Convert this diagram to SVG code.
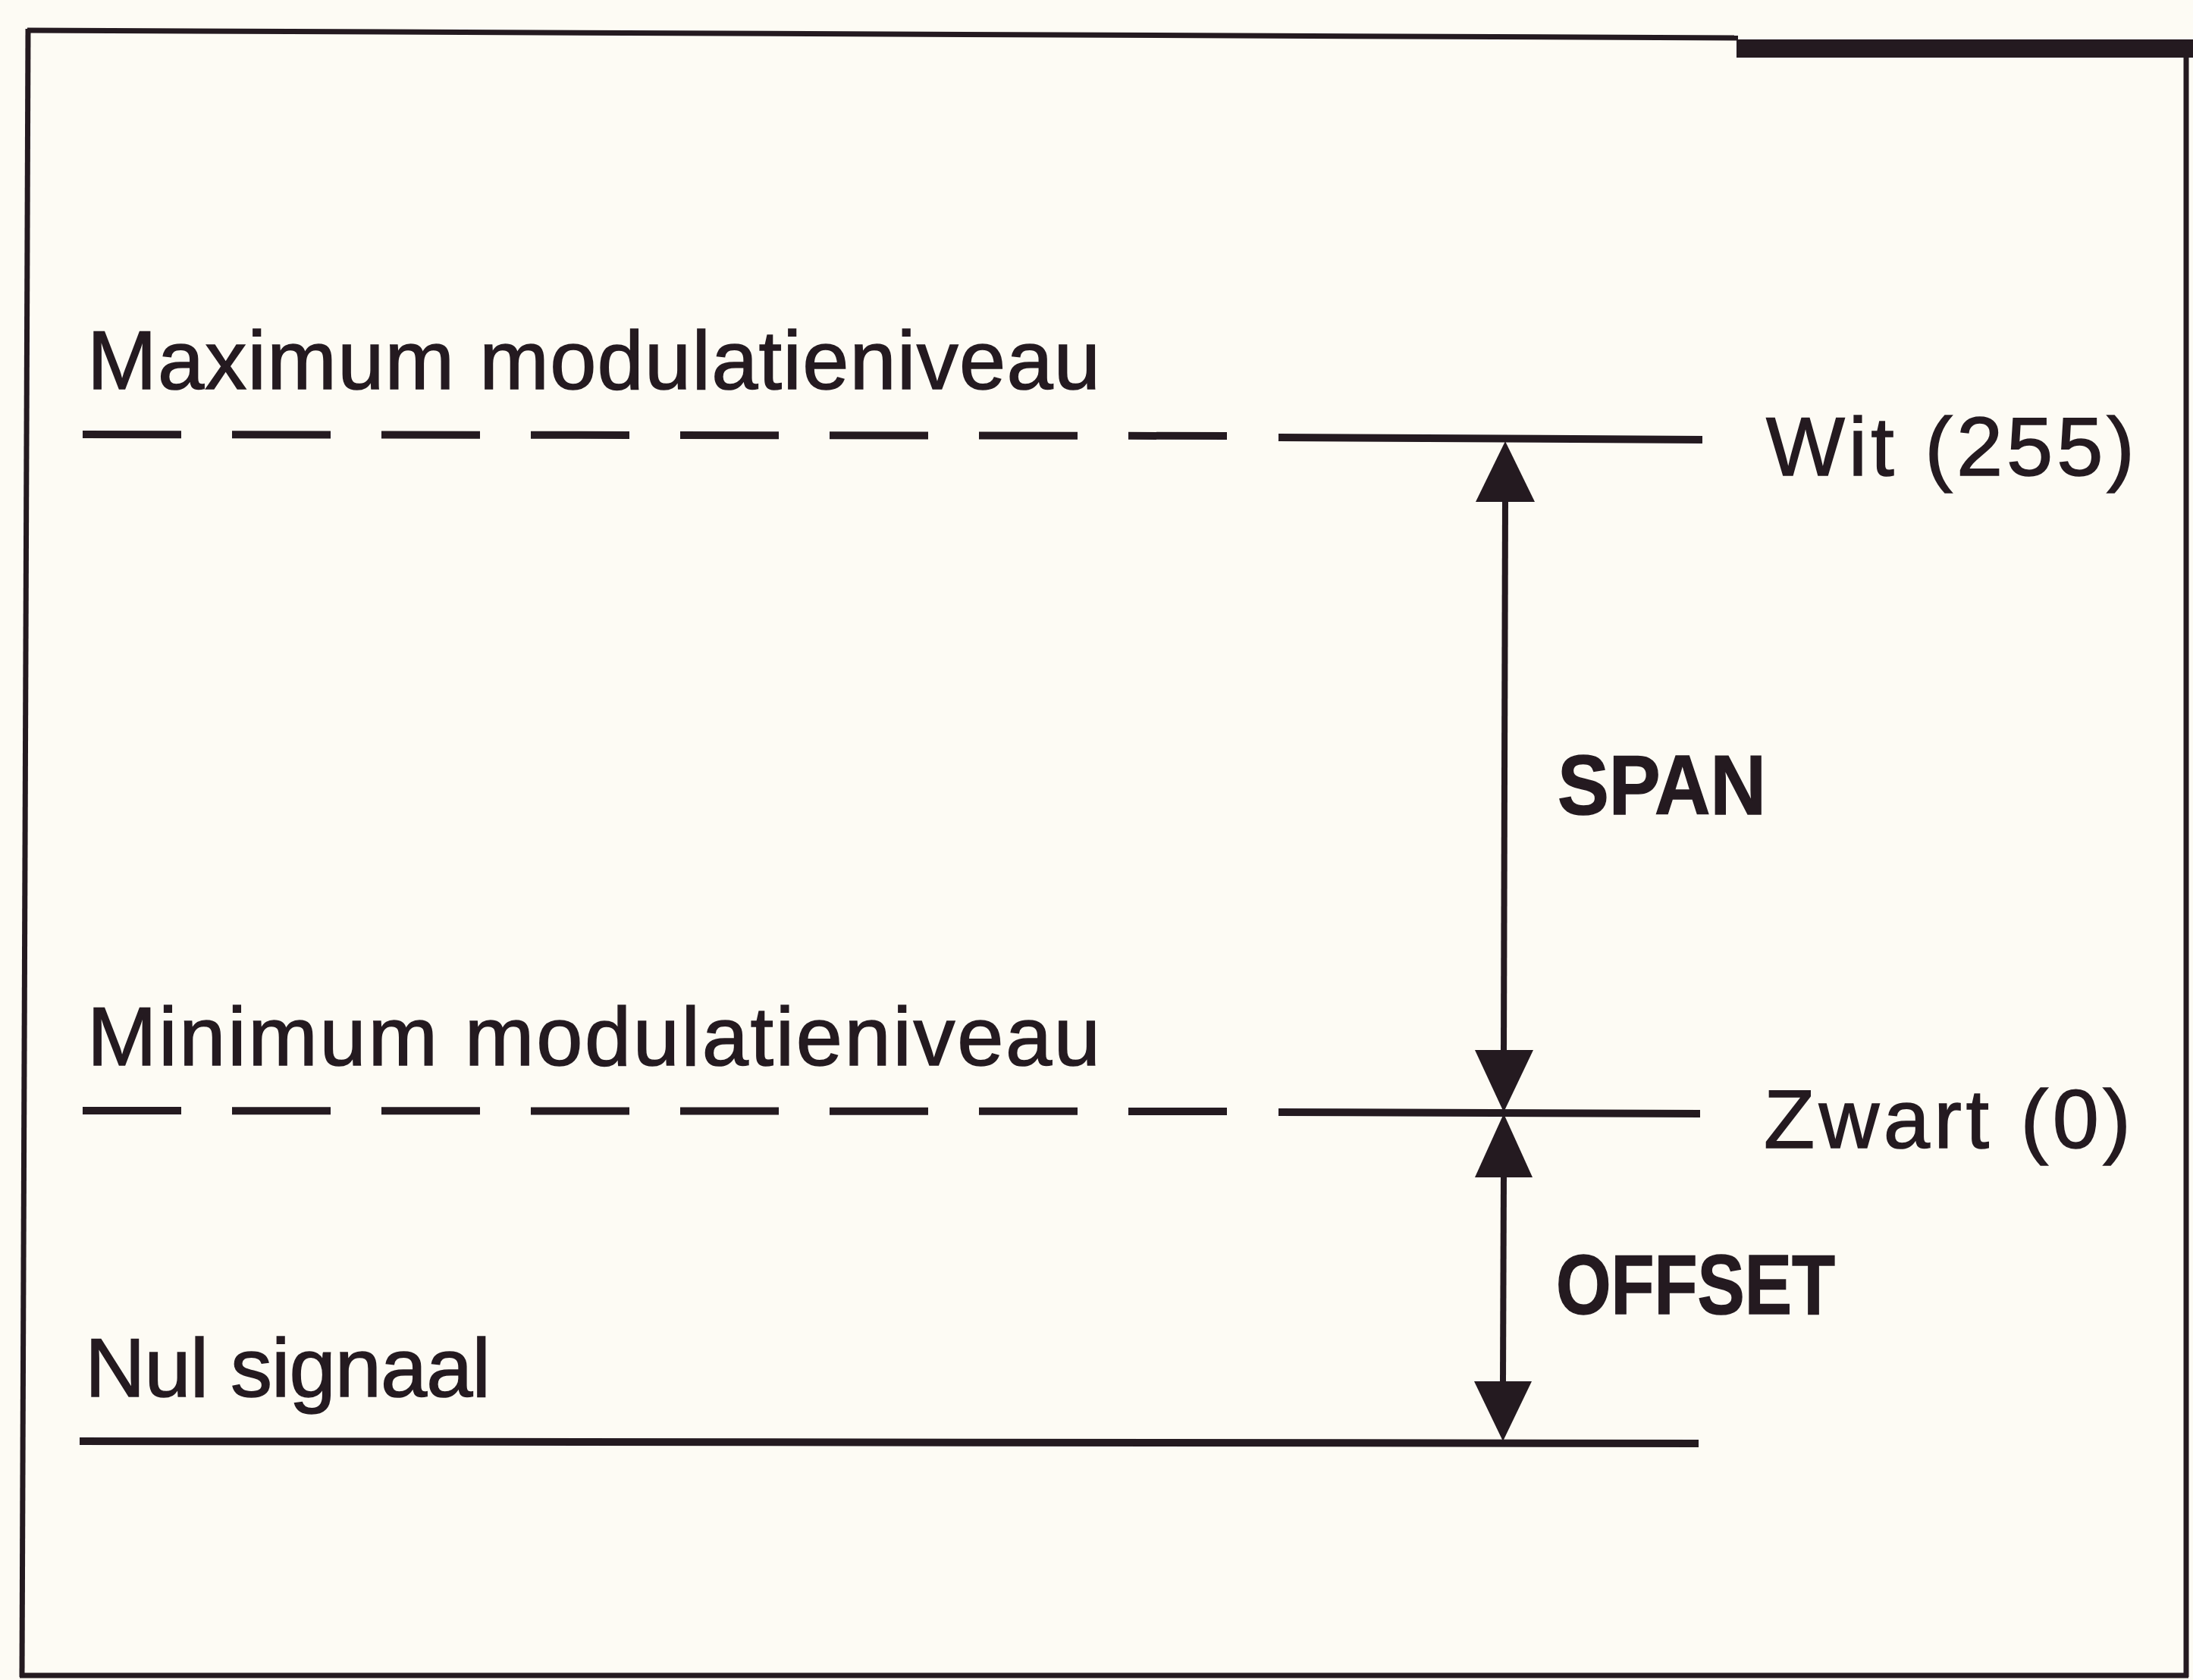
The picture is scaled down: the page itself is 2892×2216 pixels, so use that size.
<svg xmlns="http://www.w3.org/2000/svg" width="2892" height="2216" viewBox="0 0 2892 2216">
<style>
.ink{stroke:#241a20;fill:none}
.frame{stroke:#241a20;stroke-width:7;fill:none}
.lvl{stroke:#241a20;stroke-width:10;fill:none}
.dash{stroke-dasharray:130 67}
.head{fill:#241a20;stroke:none}
.lbl{font-family:"Liberation Sans",Arial,sans-serif;font-size:110px;fill:#241a20;stroke:#241a20;stroke-width:1.5}
.bold{font-family:"Liberation Sans",Arial,sans-serif;font-size:112px;font-weight:bold;fill:#241a20;stroke:#241a20;stroke-width:1.5}
</style>
<rect x="0" y="0" width="2892" height="2216" fill="#fdfbf4"/>
<g id="frame">
<line class="frame" x1="36" y1="40" x2="2292" y2="50"/>
<rect x="2290" y="52" width="602" height="24" fill="#241a20"/>
<line class="frame" x1="37" y1="38" x2="29" y2="2212"/>
<line class="frame" x1="2883" y1="70" x2="2883" y2="2212"/>
<line class="frame" x1="26" y1="2210" x2="2886" y2="2210"/>
</g>
<g id="level-max">
<line class="lvl dash" x1="109" y1="573" x2="1620" y2="575"/>
<line class="lvl" x1="1686" y1="577" x2="2245" y2="580"/>
<text class="lbl" x="115" y="513" textLength="1336" lengthAdjust="spacing">Maximum modulatieniveau</text>
<text class="lbl" x="2329" y="627" textLength="486" lengthAdjust="spacing">Wit (255)</text>
</g>
<g id="level-min">
<line class="lvl dash" x1="109" y1="1465" x2="1620" y2="1466"/>
<line class="lvl" x1="1686" y1="1467" x2="2242" y2="1469"/>
<text class="lbl" x="115" y="1405" textLength="1336" lengthAdjust="spacing">Minimum modulatieniveau</text>
<text class="lbl" x="2326" y="1514" textLength="484" lengthAdjust="spacing">Zwart (0)</text>
</g>
<g id="level-zero">
<line class="lvl" x1="105" y1="1901" x2="2240" y2="1904"/>
<text class="lbl" x="112" y="1842" textLength="535" lengthAdjust="spacing">Nul signaal</text>
</g>
<g id="label-span">
<text class="bold" x="2054" y="1074" textLength="275" lengthAdjust="spacingAndGlyphs">SPAN</text>
</g>
<g id="label-offset">
<text class="bold" x="2052" y="1733" textLength="368" lengthAdjust="spacingAndGlyphs">OFFSET</text>
</g>
<g id="connectors">
<line class="ink" stroke-width="8" x1="1985" y1="660" x2="1983" y2="1390"/>
<polygon class="head" points="1985,582 2024,662 1946,662"/>
<polygon class="head" points="1983,1467 1945,1385 2022,1385"/>
<line class="ink" stroke-width="8" x1="1983" y1="1550" x2="1982" y2="1824"/>
<polygon class="head" points="1983,1469 2021,1553 1945,1553"/>
<polygon class="head" points="1982,1901 1944,1822 2020,1822"/>
</g>
</svg>
